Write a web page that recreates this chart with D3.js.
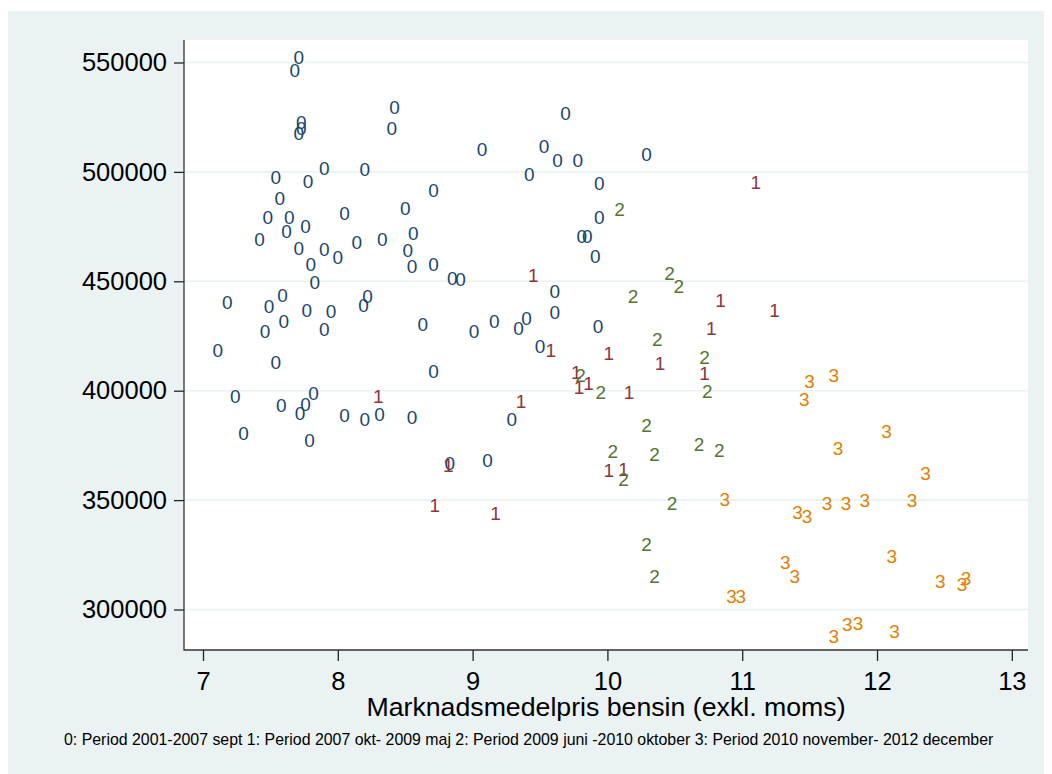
<!DOCTYPE html>
<html>
<head>
<meta charset="utf-8">
<script src="https://cdn.jsdelivr.net/npm/d3@7"></script>
<style>
  body { margin: 0; background: #ffffff; }
  svg { display: block; font-family: "Liberation Sans", Arial, Helvetica, sans-serif; }
</style>
</head>
<body>
<div id="chart"></div>
<script>
// period codes used as marker labels
const periods = ["0", "1", "2", "3"];
const periodColors = ["#1a476f", "#90353b", "#55752f", "#e37e00"];

// x: Marknadsmedelpris bensin, y: value
const price0 = [7.71, 7.68, 7.73, 7.73, 7.71, 8.42, 8.40, 9.07, 9.69, 9.53, 9.63, 9.78, 10.29, 9.42, 9.94, 9.94,
  9.81, 9.85, 9.91, 7.54, 7.78, 7.90, 8.20, 8.71, 7.57, 7.48, 7.64, 7.76, 7.62, 7.42, 8.05, 8.50, 8.56, 8.52,
  8.33, 8.14, 7.71, 7.90, 8.00, 7.80, 8.55, 8.71, 8.85, 8.91, 7.83, 7.18, 7.59, 7.49, 7.77, 7.95, 8.22, 8.19,
  7.46, 7.60, 7.90, 8.63, 9.01, 9.16, 9.34, 9.40, 9.61, 9.61, 9.50, 9.93, 7.11, 7.54, 8.71, 7.24, 7.58, 7.76,
  7.82, 7.72, 8.05, 8.20, 8.31, 8.55, 9.29, 7.30, 7.79, 8.83, 9.11];
const value0 = [552400, 546600, 522800, 520100, 517800, 529800, 520200, 510500, 526900, 511800, 505400, 505400,
  508200, 499000, 494800, 479500, 470800, 470800, 461600, 497400, 495800, 501900, 501300, 491700, 488200, 479500,
  479500, 475400, 473000, 469300, 481100, 483600, 471900, 464100, 469300, 467800, 465200, 464800, 461100, 457800,
  457100, 457900, 451400, 450900, 449500, 440400, 443700, 438700, 436900, 436400, 443400, 439200, 427400, 431900,
  428200, 430500, 427000, 431900, 428800, 433100, 445700, 435800, 420400, 429700, 418600, 413000, 409000, 397600,
  393500, 393900, 398800, 389700, 388600, 387100, 389400, 388100, 387100, 380800, 377500, 366800, 368300];

const price1 = [11.10, 9.45, 10.84, 11.24, 10.77, 9.58, 10.01, 10.39, 10.72, 9.77, 9.79, 9.86, 10.16, 8.30,
  9.36, 8.82, 10.01, 10.12, 8.72, 9.17];
const value1 = [495100, 452600, 441500, 436900, 428800, 418300, 417100, 412500, 408000, 408700, 401800, 403400,
  399300, 397700, 395300, 366000, 363800, 364100, 347800, 344200];

const price2 = [10.09, 10.46, 10.53, 10.19, 10.37, 10.72, 9.80, 9.95, 10.74, 10.29, 10.04, 10.35, 10.68, 10.83,
  10.12, 10.48, 10.29, 10.35];
const value2 = [483000, 453700, 448000, 443000, 423600, 415500, 407200, 399300, 399900, 384300, 372400, 371100,
  375500, 372900, 359500, 348800, 329900, 315300];

const price3 = [11.50, 11.68, 11.46, 12.07, 11.71, 12.36, 10.87, 11.41, 11.48, 11.63, 11.77, 11.91, 12.26, 11.32,
  11.39, 12.11, 10.92, 10.99, 12.47, 12.66, 12.63, 11.68, 11.78, 11.86, 12.13];
const value3 = [404400, 407200, 396100, 381700, 373900, 362500, 350400, 344700, 342700, 348800, 348800, 350000,
  350000, 321800, 315400, 324500, 305900, 305900, 313000, 314300, 311500, 287900, 293400, 293700, 290200];

const xTicks = [7, 8, 9, 10, 11, 12, 13];
const yTicks = [300000, 350000, 400000, 450000, 500000, 550000];

const xTitle = "Marknadsmedelpris bensin (exkl. moms)";
const noteText = "0: Period 2001-2007 sept 1: Period 2007 okt- 2009 maj 2: Period 2009 juni -2010 oktober 3: Period 2010 november- 2012 december";

const width = 1052, height = 774;
const plot = {left: 184, right: 1028, top: 40, bottom: 650};

const svg = d3.select("#chart").append("svg")
  .attr("width", width)
  .attr("height", height);

// graph region
svg.append("rect")
  .attr("x", 8).attr("y", 11)
  .attr("width", 1036).attr("height", 763)
  .attr("fill", "#eaf2f3");

svg.append("rect")
  .attr("x", plot.left).attr("y", plot.top)
  .attr("width", plot.right - plot.left).attr("height", plot.bottom - plot.top)
  .attr("fill", "#ffffff");

let x = d3.scaleLinear()
  .domain([6.859, 13.12])
  .range([plot.left, plot.right]);

let y = d3.scaleLinear()
  .domain([281490, 560283])
  .range([plot.bottom, plot.top]);

// grid
svg.append("g")
  .selectAll("line")
  .data(yTicks)
  .join("line")
    .attr("x1", plot.left)
    .attr("x2", plot.right)
    .attr("y1", d => y(d))
    .attr("y2", d => y(d))
    .attr("stroke", "#eaf2f3")
    .attr("stroke-width", 1.6);

let xAxis = g => g
  .attr("transform", `translate(0, ${plot.bottom})`)
  .call(d3.axisBottom(x).tickValues(xTicks).tickFormat(d3.format("d")).tickSize(11).tickPadding(11).tickSizeOuter(0))
  .call(g => g.select(".domain").remove())
  .call(g => g.selectAll(".tick line").attr("stroke", "#222").attr("stroke-width", 1.3))
  .call(g => g.selectAll(".tick text").attr("fill", "#000").style("font-size", "25.5px"));

let yAxis = g => g
  .attr("transform", `translate(${plot.left}, 0)`)
  .call(d3.axisLeft(y).tickValues(yTicks).tickFormat(d3.format("d")).tickSize(10).tickPadding(7).tickSizeOuter(0))
  .call(g => g.select(".domain").remove())
  .call(g => g.selectAll(".tick line").attr("stroke", "#222").attr("stroke-width", 1.3))
  .call(g => g.selectAll(".tick text").attr("fill", "#000").style("font-size", "25.5px"));

svg.append("g").call(xAxis);
svg.append("g").call(yAxis);

// axis lines
svg.append("path")
  .attr("d", `M${plot.left},${plot.top}V${plot.bottom}H${plot.right}`)
  .attr("fill", "none")
  .attr("stroke", "#333")
  .attr("stroke-width", 1.3);

// markers: period numbers drawn as labels
const series = [
  {label: periods[0], xs: price0, ys: value0},
  {label: periods[1], xs: price1, ys: value1},
  {label: periods[2], xs: price2, ys: value2},
  {label: periods[3], xs: price3, ys: value3}
];

series.forEach((s, i) => {
  svg.append("g")
      .attr("fill", periodColors[i])
      .style("font-size", "19px")
      .attr("text-anchor", "middle")
    .selectAll("text")
    .data(s.xs.map((v, j) => [v, s.ys[j]]))
    .join("text")
      .attr("x", d => x(d[0]))
      .attr("y", d => y(d[1]))
      .attr("dy", "0.36em")
      .text(s.label);
});

svg.append("text")
  .attr("x", (plot.left + plot.right) / 2)
  .attr("y", 716)
  .attr("text-anchor", "middle")
  .attr("fill", "#000")
  .style("font-size", "26.7px")
  .text(xTitle);

svg.append("text")
  .attr("x", 64)
  .attr("y", 745)
  .attr("fill", "#000")
  .style("font-size", "15.9px")
  .text(noteText);
</script>
</body>
</html>
